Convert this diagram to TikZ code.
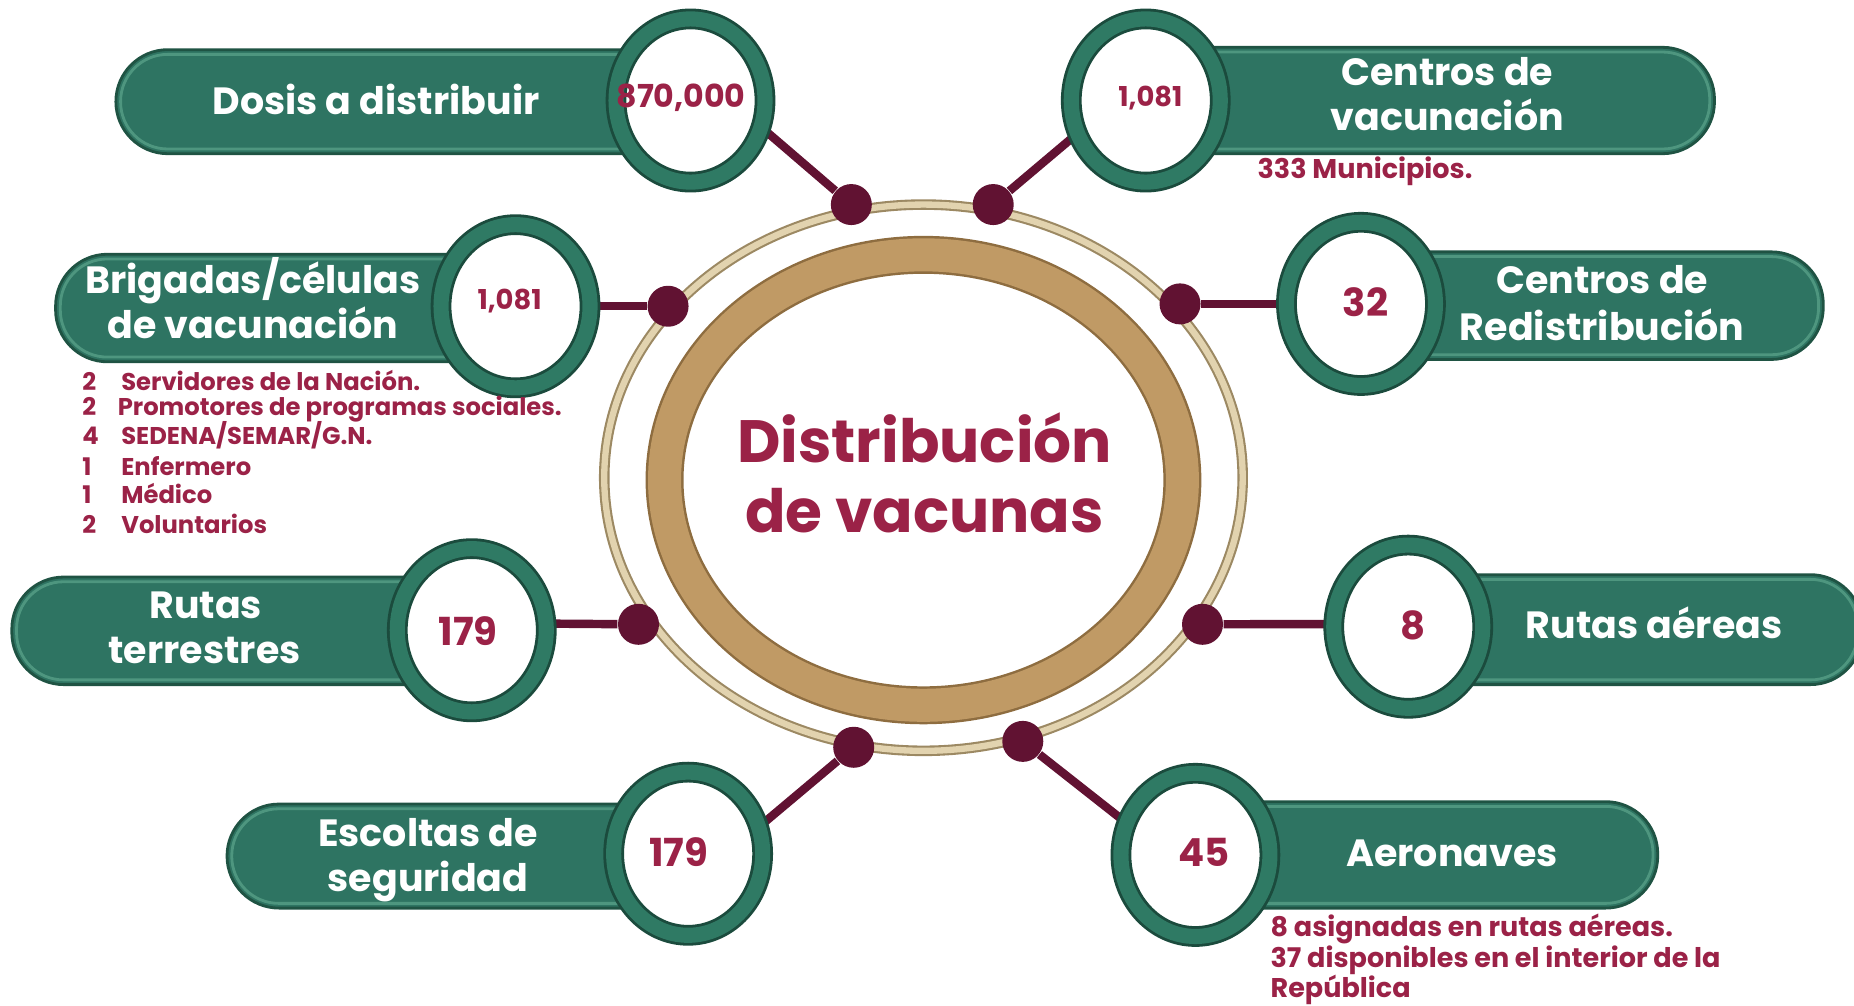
\documentclass[tikz,border=0pt]{standalone}
\usepackage{fontspec}
\setmainfont{Poppins}
\usetikzlibrary{shapes.geometric,calc}
\definecolor{guinda}{HTML}{9B2247}
\definecolor{vino}{HTML}{611232}
\definecolor{bargreen}{HTML}{2E7462}
\definecolor{bardark}{HTML}{1F5343}
\definecolor{barlight}{HTML}{6AB398}
\definecolor{ringmid}{HTML}{2F7A64}
\definecolor{ringdark}{HTML}{1B4B3D}
\definecolor{gold}{HTML}{C09A65}
\definecolor{golddark}{HTML}{8E6D40}
\definecolor{beige}{HTML}{E2D3AF}
\definecolor{beigedark}{HTML}{9C8963}
\pgfdeclarelayer{bg}
\pgfsetlayers{bg,main}
\newcommand\pillbar[4]{%
  \fill[bargreen, draw=bardark, line width=0.8pt, rounded corners=0.52cm] (#1,#2) rectangle (#3,#4);
  \draw[barlight, line width=0.8pt, opacity=0.55, rounded corners=0.47cm] ($(#1,#2)+(4,4)$) rectangle ($(#3,#4)+(-4,-4)$);
}
\begin{document}
\begin{tikzpicture}[x=0.011824cm, y=-0.011824cm,
  ringnode/.style={ellipse, minimum width=1.49cm, minimum height=1.632cm, inner sep=0pt,
    fill=white, draw=ringdark, line width=0.8pt, double=ringmid, double distance=4.3pt},
  dotnode/.style={circle, minimum size=0.41cm, inner sep=0pt, fill=vino},
  link/.style={vino, line width=2.4pt},
  pilltext/.style={text=white, anchor=base, inner sep=0pt, font=\bfseries\fontsize{10.8}{12.8}\selectfont},
  numtext/.style={text=guinda, anchor=base, inner sep=0pt, font=\bfseries\fontsize{11}{12}\selectfont},
  smallnum/.style={text=guinda, anchor=base, inner sep=0pt, font=\bfseries\fontsize{7.8}{9}\selectfont},
  notetext/.style={text=guinda, anchor=base west, inner sep=0pt, font=\bfseries\fontsize{6.9}{8}\selectfont},
  aerotext/.style={text=guinda, anchor=base west, inner sep=0pt, font=\bfseries\fontsize{7.7}{9}\selectfont}]
\useasboundingbox (0,0) rectangle (1568,850);

% central rings
\node[ellipse, minimum width=6.385cm, minimum height=5.463cm, inner sep=0pt,
  draw=beigedark, line width=0.6pt, double=beige, double distance=1.8pt] (hubring) at (781,404) {};
\node[ellipse, minimum width=5.179cm, minimum height=4.505cm, inner sep=0pt,
  draw=golddark, line width=0.7pt, double=gold, double distance=9.4pt] (hub) at (781,406) {};
\node[text=guinda, align=center, inner sep=0pt, font=\bfseries\fontsize{17}{19.9}\selectfont] (hubtext) at (782,400) {Distribución\\de vacunas};

% bars
\begin{pgfonlayer}{bg}
\pillbar{98}{42}{584}{130}
\pillbar{969}{40}{1450}{130}
\pillbar{47}{215}{436}{306}
\pillbar{1151}{213}{1542}{304}
\pillbar{10}{488}{399}{579}
\pillbar{1191}{486}{1575}{579}
\pillbar{192}{680}{582}{768}
\pillbar{1011}{678}{1402}{768}
\end{pgfonlayer}

% rings
\node[ringnode] (r1) at (584,85) {};
\node[ringnode] (r2) at (969,85) {};
\node[ringnode] (r3) at (436,259) {};
\node[ringnode] (r4) at (1151,257) {};
\node[ringnode] (r5) at (399,533) {};
\node[ringnode] (r6) at (1191,530) {};
\node[ringnode] (r7) at (582,722) {};
\node[ringnode] (r8) at (1011,723) {};

% dots
\node[dotnode] (d1) at (720,173) {};
\node[dotnode] (d2) at (840,173) {};
\node[dotnode] (d3) at (565,259) {};
\node[dotnode] (d4) at (998,257) {};
\node[dotnode] (d5) at (540,528) {};
\node[dotnode] (d6) at (1017,528) {};
\node[dotnode] (d7) at (722,632) {};
\node[dotnode] (d8) at (865,627) {};

% connectors
\begin{pgfonlayer}{bg}
\draw[link] (d1) -- (r1.-21);
\draw[link] (d2) -- (r2.-154);
\draw[link] (d3) -- (r3.east);
\draw[link] (d4) -- (r4.west);
\draw[link] (d5) -- (r5.5);
\draw[link] (d6) -- (r6.178);
\draw[link] (d7) -- (r7.21);
\draw[link] (d8) -- (r8.155);
\end{pgfonlayer}

% numbers
\node[numtext, font=\bfseries\fontsize{9}{10}\selectfont] (n1) at (576,90.5) {870,000};
\node[smallnum] (n2) at (973,90) {1,081};
\node[smallnum] (n3) at (431,262) {1,081};
\node[numtext] (n4) at (1155,268) {32};
\node[numtext] (n5) at (396,545.5) {179};
\node[numtext] (n6) at (1195,541) {8};
\node[numtext] (n7) at (574,733) {179};
\node[numtext] (n8) at (1018,733) {45};

% pill labels
\node[pilltext] (t1) at (318,97) {Dosis a distribuir};
\node[pilltext] (t2a) at (1224,72) {Centros de};
\node[pilltext] (t2b) at (1224,110) {vacunación};
\node[pilltext] (t3a) at (214,248) {Brigadas/células};
\node[pilltext] (t3b) at (214,286) {de vacunación};
\node[pilltext] (t4a) at (1355,248) {Centros de};
\node[pilltext] (t4b) at (1355,288) {Redistribución};
\node[pilltext] (t5a) at (174,523) {Rutas};
\node[pilltext] (t5b) at (173,561) {terrestres};
\node[pilltext] (t6) at (1399,540) {Rutas aéreas};
\node[pilltext] (t7a) at (362,716) {Escoltas de};
\node[pilltext] (t7b) at (362,754) {seguridad};
\node[pilltext] (t8) at (1228,733) {Aeronaves};

% notes
\node[notetext, font=\bfseries\fontsize{7.7}{9}\selectfont] (m2) at (1063,151) {333 Municipios.};
\node[notetext] (q1) at (69,330) {2};
\node[notetext] (p1) at (102,330) {Servidores de la Nación.};
\node[notetext] (q2) at (69,351) {2};
\node[notetext] (p2) at (99,351) {Promotores de programas sociales.};
\node[notetext] (q3) at (69,376) {4};
\node[notetext] (p3) at (102,376) {SEDENA/SEMAR/G.N.};
\node[notetext] (q4) at (69,402) {1};
\node[notetext] (p4) at (102,402) {Enfermero};
\node[notetext] (q5) at (69,426) {1};
\node[notetext] (p5) at (102,426) {Médico};
\node[notetext] (q6) at (69,451) {2};
\node[notetext] (p6) at (102,451) {Voluntarios};
\node[aerotext] (a1) at (1074,792) {8 asignadas en rutas aéreas.};
\node[aerotext] (a2) at (1074,818) {37 disponibles en el interior de la};
\node[aerotext] (a3) at (1074,844) {República};
\end{tikzpicture}
\end{document}
